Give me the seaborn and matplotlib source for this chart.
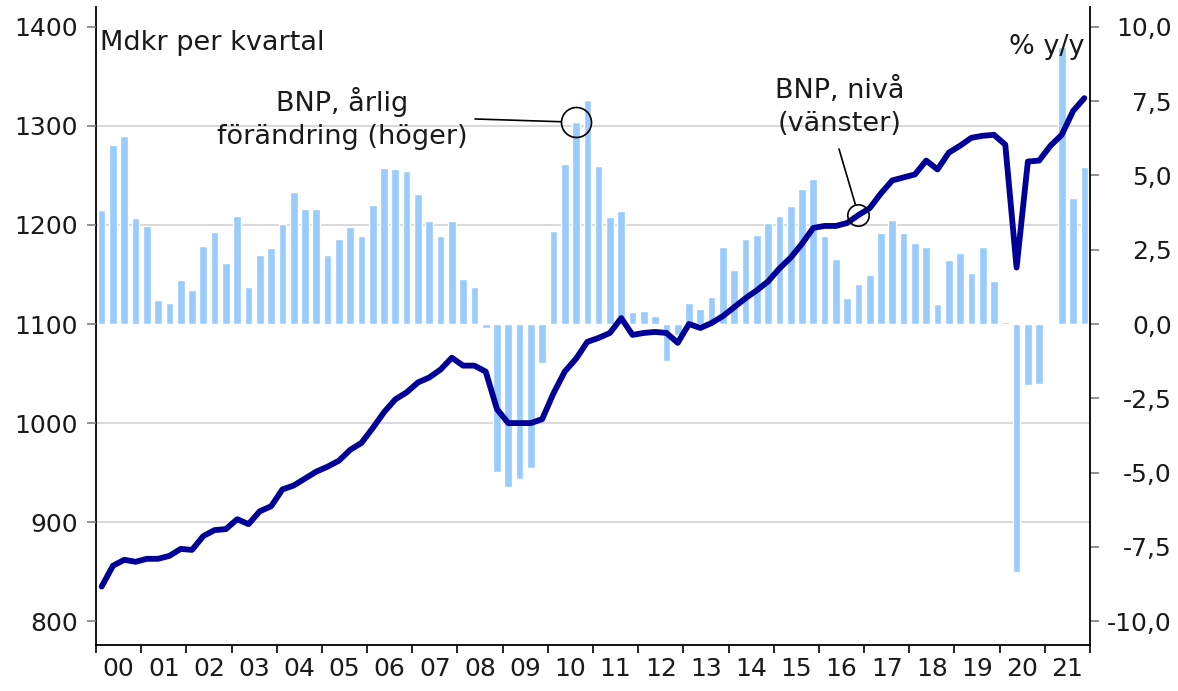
import numpy as np
import pandas as pd
import seaborn as sns
import matplotlib.pyplot as plt

# kvartalsdata 2000K1 - 2021K4
year_labels = ["00", "01", "02", "03", "04", "05", "06", "07", "08", "09", "10",
               "11", "12", "13", "14", "15", "16", "17", "18", "19", "20", "21"]

# BNP, årlig förändring (% y/y), höger axel
growth = [3.84, 6.03, 6.32, 3.56, 3.30, 0.81, 0.70, 1.48, 1.13, 2.63, 3.10, 2.04,
          3.64, 1.25, 2.33, 2.56, 3.38, 4.44, 3.86, 3.87, 2.32, 2.87, 3.28, 2.96,
          4.00, 5.26, 5.22, 5.15, 4.37, 3.45, 2.97, 3.47, 1.53, 1.24, -0.15, -4.99,
          -5.50, -5.20, -4.86, -1.32, 3.14, 5.39, 6.79, 7.54, 5.33, 3.61, 3.79, 0.40,
          0.44, 0.28, -1.24, -0.37, 0.72, 0.50, 0.92, 2.60, 1.83, 2.87, 3.00, 3.40,
          3.63, 3.97, 4.53, 4.88, 2.96, 2.19, 0.88, 1.36, 1.64, 3.07, 3.49, 3.06,
          2.73, 2.58, 0.68, 2.17, 2.39, 1.72, 2.59, 1.44, 0.06, -8.36, -2.04, -2.01,
          0.05, 9.32, 4.24, 5.27]

# BNP, nivå (Mdkr per kvartal), vänster axel
level = [835, 856, 862, 860, 863, 863, 866, 873, 872, 886, 892, 893,
         903, 898, 911, 916, 933, 937, 944, 951, 956, 962, 973, 980,
         995, 1011, 1024, 1031, 1041, 1046, 1054, 1066, 1058, 1058, 1052, 1014,
         1000, 1000, 1000, 1004, 1030, 1052, 1065, 1082, 1086, 1091, 1106, 1089,
         1091, 1092, 1091, 1081, 1100, 1096, 1101, 1108, 1117, 1126, 1134, 1143,
         1156, 1167, 1181, 1197, 1199, 1199, 1202, 1210, 1217, 1232, 1245, 1248,
         1251, 1265, 1256, 1273, 1280, 1288, 1290, 1291, 1281, 1157, 1264, 1265,
         1280, 1291, 1315, 1328]

left_ticks = [800, 900, 1000, 1100, 1200, 1300, 1400]
right_ticks = [-10.0, -7.5, -5.0, -2.5, 0.0, 2.5, 5.0, 7.5, 10.0]
right_labels = ["-10,0", "-7,5", "-5,0", "-2,5", "0,0", "2,5", "5,0", "7,5", "10,0"]

df = pd.DataFrame({"q": np.arange(len(growth)), "growth": growth, "level": level})

sns.set_style("white")
plt.rcParams["font.family"] = ["DejaVu Sans"]

W, H = 1178, 691
fig = plt.figure(figsize=(W / 100, H / 100), dpi=100)
ax = fig.add_axes([96 / W, 1 - 645 / H, 994 / W, 638 / H])
ax2 = ax.twinx()

bar_col = "#99cbfc"
line_col = "#000099"

sns.barplot(data=df, x="q", y="growth", ax=ax, color=bar_col, saturation=1,
            width=0.68, native_scale=True, zorder=2)
sns.lineplot(data=df, x="q", y="level", ax=ax2, color=line_col, lw=4.2,
             solid_joinstyle="round", zorder=3)

# vänster 800..1400 motsvarar höger -10..10 -> 1100 <-> 0, 30 Mdkr per %-enhet
def to_right(v):
    return (v - 1100) / 30

# byt sida: staplar mot höger axel, linje mot vänster
ax.yaxis.tick_right()
ax2.yaxis.tick_left()

ax.set_yticks(right_ticks)
ax.set_yticklabels(right_labels)
ax.set_yticks([to_right(v) for v in left_ticks], minor=True)
ax.tick_params(axis="y", which="major", right=True, left=False, length=6.5,
               width=1.2, color="#808080", pad=52.5, labelsize=18,
               labelcolor="#1a1a1a")
ax.tick_params(axis="y", which="minor", right=False, left=False, length=0)
for lbl in ax.get_yticklabels():
    lbl.set_horizontalalignment("right")

ax2.set_yticks(left_ticks)
ax2.set_yticklabels([str(v) for v in left_ticks])
ax2.tick_params(axis="y", left=True, right=False, length=6.5, width=1.2,
                color="#808080", pad=6.5, labelsize=18, labelcolor="#1a1a1a")

ylo, yhi = 776, 1420
ax2.set_ylim(ylo, yhi)
ax.set_ylim(to_right(ylo), to_right(yhi))

# rutnät efter vänster axel, bakom staplarna
ax.grid(False)
ax.yaxis.grid(True, which="minor", color="#d9d9d9", lw=1.5)
ax.yaxis.grid(False, which="major")
ax.set_axisbelow(True)

ax.set_xticks(np.arange(-0.5, len(growth), 4))
ax.set_xticklabels([])
ax.set_xticks(np.arange(1.5, len(growth), 4), minor=True)
ax.set_xticklabels(year_labels, minor=True)
ax.set_xlim(-0.5, len(growth) - 0.5)
ax.tick_params(axis="x", which="major", bottom=True, length=6, width=1.2,
               color="black", direction="out")
ax.tick_params(axis="x", which="minor", bottom=True, length=0, pad=9,
               labelsize=18, labelcolor="#1a1a1a")

for a in (ax, ax2):
    a.set_xlabel("")
    a.set_ylabel("")
for s in ax2.spines.values():
    s.set_visible(False)
ax.spines["top"].set_visible(False)
for s in ("left", "right", "bottom"):
    ax.spines[s].set_color("black")
    ax.spines[s].set_linewidth(1.3)

# texter
ax2.text(0.004, 0.9436, "Mdkr per kvartal", transform=ax.transAxes,
         ha="left", va="center", fontsize=19.5, color="#1a1a1a")
ax2.text(0.994, 0.9373, "% y/y", transform=ax.transAxes,
         ha="right", va="center", fontsize=19.5, color="#1a1a1a")

# markering: årlig förändring
ax.plot([df.q[42]], [df.growth[42]], marker="o", ms=21.6, mfc="none",
        mec="black", mew=1.2, zorder=4)
ax.annotate("", xy=(df.q[42], df.growth[42]), xycoords="data",
            xytext=(0.3813, 0.8245), textcoords="axes fraction",
            arrowprops=dict(arrowstyle="-", color="black", lw=1.2,
                            shrinkA=0, shrinkB=10.8))
ax2.text(0.2475, 0.8245, "BNP, årlig\nförändring (höger)", transform=ax.transAxes,
         ha="center", va="center", fontsize=19.5, color="#1a1a1a",
         linespacing=1.35)

# markering: nivå
ax2.plot([df.q[67]], [df.level[67]], marker="o", ms=15.4, mfc="none",
         mec="black", mew=1.2, zorder=5)
ax2.annotate("", xy=(df.q[67], df.level[67]), xycoords="data",
             xytext=(0.7475, 0.7774), textcoords="axes fraction",
             arrowprops=dict(arrowstyle="-", color="black", lw=1.2,
                             shrinkA=0, shrinkB=7.7))
ax2.text(0.7485, 0.8433, "BNP, nivå\n(vänster)", transform=ax.transAxes,
         ha="center", va="center", fontsize=19.5, color="#1a1a1a",
         linespacing=1.35)

fig.savefig("out.png", dpi=100)
